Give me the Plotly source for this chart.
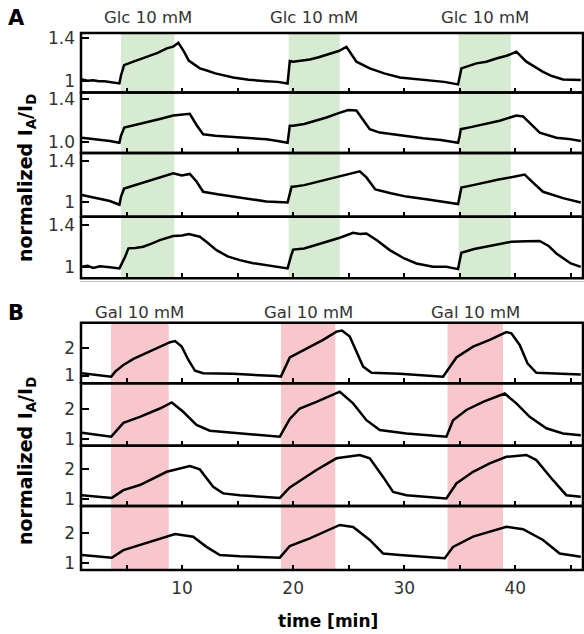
import plotly.graph_objects as go

W, H = 584, 634

# ---------------- data ----------------
# Panel A (glucose pulses)
glc_on = [4.5, 19.6, 34.9]
glc_off = [9.3, 24.2, 39.6]
glc_label = "Glc 10 mM"

a1_t = [0.98, 1.5, 2.0, 2.5, 3.0, 3.5, 4.36, 4.5, 4.78, 5.62, 6.3, 7.12, 7.8, 8.62, 9.2, 9.67, 10.2, 10.6, 11.6, 12.3, 13.0, 14.6, 16.0, 17.6, 18.6, 19.5,
        19.7, 20.0, 21.5, 22.3, 23.3, 24.1, 24.8, 25.7, 26.9, 28.2, 29.6, 31.0, 32.3, 33.6, 34.85, 35.0, 35.15, 36.5, 37.4, 38.3, 39.3, 40.1, 41.0, 42.5, 43.3, 44.3, 45.9]
a1_y = [1.013, 1.0, 1.006, 0.996, 0.995, 0.99, 0.975, 1.05, 1.148, 1.18, 1.205, 1.242, 1.262, 1.305, 1.322, 1.358, 1.27, 1.19, 1.117, 1.095, 1.07, 1.032, 1.01, 0.997, 0.99, 0.975,
        1.186, 1.18, 1.2, 1.222, 1.258, 1.28, 1.32, 1.18, 1.117, 1.07, 1.032, 1.018, 1.007, 0.99, 0.966, 1.06, 1.117, 1.164, 1.18, 1.21, 1.238, 1.274, 1.18, 1.085, 1.045, 1.013, 1.007]

a2_t = [0.98, 1.8, 2.6, 3.5, 4.36, 4.5, 4.8, 6.2, 7.1, 8.0, 9.2, 10.3, 10.7, 11.3, 11.9, 13.0, 14.6, 16.1, 17.6, 18.6, 19.5,
        19.7, 20.0, 21.0, 22.1, 23.0, 23.9, 24.95, 25.7, 26.9, 27.8, 29.8, 31.7, 33.3, 34.85, 35.0, 35.1, 36.0, 37.1, 38.6, 40.1, 40.7, 42.2, 43.7, 44.8, 45.9]
a2_y = [1.041, 1.03, 1.026, 1.01, 0.993, 1.06, 1.136, 1.168, 1.19, 1.216, 1.248, 1.264, 1.264, 1.16, 1.073, 1.06, 1.05, 1.04, 1.026, 1.01, 0.993,
        1.152, 1.152, 1.17, 1.2, 1.23, 1.264, 1.30, 1.295, 1.121, 1.089, 1.06, 1.035, 1.02, 0.993, 1.06, 1.121, 1.14, 1.168, 1.2, 1.248, 1.24, 1.089, 1.041, 1.03, 1.01]

a3_t = [0.98, 1.8, 2.6, 3.5, 4.36, 4.5, 4.78, 6.2, 7.1, 8.0, 9.2, 9.97, 10.7, 11.3, 11.9, 13.2, 14.6, 16.1, 17.6, 18.6, 19.5, 19.86,
        20.0, 21.0, 22.1, 23.2, 24.2, 25.1, 26.0, 26.6, 27.4, 28.8, 30.2, 32.3, 33.6, 34.85, 35.0, 35.15, 36.2, 37.4, 38.5, 39.65, 40.85, 41.6, 42.5, 44.3, 45.9]
a3_y = [1.069, 1.05, 1.038, 1.01, 0.974, 1.05, 1.132, 1.18, 1.205, 1.236, 1.28, 1.258, 1.274, 1.2, 1.10, 1.075, 1.053, 1.03, 1.006, 1.0, 0.996, 1.148,
        1.148, 1.165, 1.195, 1.225, 1.258, 1.28, 1.30, 1.24, 1.123, 1.085, 1.053, 1.022, 1.0, 0.981, 1.06, 1.142, 1.165, 1.195, 1.22, 1.242, 1.267, 1.19, 1.10, 1.038, 0.996]

a4_t = [0.98, 1.5, 2.0, 2.6, 3.5, 4.36, 4.87, 5.17, 5.8, 6.5, 7.2, 8.0, 9.2, 10.0, 10.6, 11.6, 12.3, 13.1, 14.1, 15.2, 16.4, 17.6, 18.6, 19.5,
        19.8, 20.0, 21.0, 22.1, 23.1, 24.2, 25.4, 26.0, 26.6, 27.6, 28.7, 30.0, 31.1, 32.6, 33.8, 34.85, 35.0, 35.15, 36.3, 37.4, 38.5, 39.65, 41.0, 42.2, 43.0, 43.7, 45.0, 45.9]
a4_y = [1.0, 1.01, 0.99, 1.006, 0.995, 0.985, 1.096, 1.177, 1.18, 1.192, 1.22, 1.256, 1.295, 1.3, 1.314, 1.288, 1.23, 1.16, 1.1, 1.064, 1.035, 1.016, 0.995, 0.985,
        1.10, 1.165, 1.175, 1.208, 1.24, 1.278, 1.326, 1.315, 1.32, 1.25, 1.16, 1.08, 1.032, 1.0, 1.0, 0.978, 1.06, 1.134, 1.17, 1.192, 1.215, 1.24, 1.245, 1.247, 1.2, 1.128, 1.032, 1.0]

# Panel B (galactose pulses)
gal_on = [3.6, 18.9, 33.9]
gal_off = [8.8, 23.8, 38.9]
gal_label = "Gal 10 mM"

b1_t = [0.98, 2.5, 3.62, 4.0, 4.72, 5.62, 7.12, 8.92, 9.37, 9.97, 10.57, 11.17, 11.9, 14.6, 18.5, 18.9,
        19.7, 21.2, 22.7, 23.9, 24.4, 25.1, 25.7, 26.3, 27.06, 29.6, 33.5, 34.1, 34.7, 36.2, 37.7, 39.2, 39.65,
        40.4, 41.1, 41.9, 45.9]
b1_y = [1.08, 1.02, 0.96, 1.15, 1.38, 1.6, 1.88, 2.2, 2.24, 2.04, 1.56, 1.17, 1.08, 1.06, 0.98, 0.96,
        1.65, 1.98, 2.28, 2.58, 2.62, 2.40, 1.86, 1.32, 1.10, 1.06, 0.96, 1.29, 1.65, 2.04, 2.28, 2.56, 2.52,
        2.10, 1.44, 1.10, 1.04]

b2_t = [0.98, 3.62, 4.72, 6.2, 8.0, 9.07, 10.1, 11.3, 12.5, 14.6, 18.8,
        19.7, 20.6, 22.1, 24.2, 25.4, 26.6, 27.8, 30.2, 33.8, 34.4, 35.6, 37.1, 39.05, 40.1, 41.3, 42.8, 44.3, 45.9]
b2_y = [1.22, 1.09, 1.55, 1.75, 2.03, 2.23, 1.92, 1.48, 1.29, 1.22, 1.09,
        1.68, 2.03, 2.25, 2.59, 2.2, 1.64, 1.31, 1.2, 1.09, 1.64, 1.98, 2.25, 2.53, 2.2, 1.75, 1.37, 1.2, 1.14]

b3_t = [0.98, 3.67, 4.72, 6.2, 8.62, 10.7, 11.6, 12.8, 13.7, 15.2, 18.8,
        19.7, 22.1, 23.9, 26.0, 26.9, 28.1, 29.0, 30.2, 33.8, 34.7, 36.2, 37.7, 39.2, 41.0, 41.9, 43.4, 44.6, 45.9]
b3_y = [1.14, 1.05, 1.31, 1.48, 1.92, 2.11, 2.0, 1.42, 1.2, 1.14, 1.05,
        1.4, 1.98, 2.37, 2.48, 2.37, 1.75, 1.25, 1.14, 1.03, 1.53, 1.92, 2.2, 2.42, 2.48, 2.31, 1.64, 1.14, 1.09]

b4_t = [0.98, 3.67, 4.72, 6.2, 8.62, 9.37, 11.0, 12.2, 13.4, 15.2, 18.8,
        19.7, 21.5, 24.2, 25.4, 26.9, 28.1, 29.6, 33.65, 34.4, 36.2, 37.7, 39.2, 40.7, 42.5, 44.0, 45.9]
b4_y = [1.26, 1.17, 1.42, 1.59, 1.87, 1.96, 1.87, 1.53, 1.26, 1.22, 1.17,
        1.56, 1.81, 2.26, 2.19, 1.76, 1.31, 1.26, 1.15, 1.53, 1.87, 2.04, 2.2, 2.12, 1.76, 1.31, 1.2]

x_ticks = [10, 20, 30, 40]
x_ticktext = ["10", "20", "30", "40"]

series = [(a1_t, a1_y), (a2_t, a2_y), (a3_t, a3_y), (a4_t, a4_y),
          (b1_t, b1_y), (b2_t, b2_y), (b3_t, b3_y), (b4_t, b4_y)]

y_ranges = [[0.89, 1.45], [0.898, 1.464], [0.857, 1.478], [0.89, 1.48],
            [0.72, 2.9], [0.79, 2.87], [0.78, 2.79], [0.76, 2.89]]
y_tickvals = [[1, 1.4]] * 4 + [[1, 2]] * 4
y_ticktext = [["1", "1.4"], ["1.0", "1.4"], ["1", "1.4"], ["1", "1.4"]] + [["1", "2"]] * 4

# ---------------- layout geometry (pixels) ----------------
row_px = [(33, 92.5), (92.5, 153), (153, 216.7), (216.7, 278.3),
          (322.7, 383.3), (383.3, 445.7), (445.7, 506), (506, 570)]
XL, XR = 81, 583
x_dom = [XL / W, XR / W]
x_range = [0.9, 46.1]

FONT = "DejaVu Sans, Liberation Sans, Arial, sans-serif"
GREEN = "#d6ebd1"
PINK = "#f8c7cc"
TXT = "#333333"

fig = go.Figure()
layout = dict(width=W, height=H, margin=dict(l=0, r=0, t=0, b=0, autoexpand=False),
              plot_bgcolor="white", paper_bgcolor="white", showlegend=False,
              font=dict(family=FONT, color=TXT))
shapes = []
annotations = []

for i, ((t, y), (top, bot)) in enumerate(zip(series, row_px)):
    n = i + 1
    xa = "x" if n == 1 else f"x{n}"
    ya = "y" if n == 1 else f"y{n}"
    fig.add_trace(go.Scatter(x=t, y=y, mode="lines", xaxis=xa, yaxis=ya,
                             line=dict(color="black", width=2.5), hoverinfo="skip"))
    layout["xaxis" if n == 1 else f"xaxis{n}"] = dict(
        domain=x_dom, range=x_range, anchor=ya, showline=False, automargin=False,
        ticks="inside", ticklen=5, tickwidth=2, tickcolor="black",
        tickvals=x_ticks, ticktext=x_ticktext,
        minor=dict(ticks="inside", tickvals=[5, 15, 25, 35, 45], ticklen=5, tickwidth=2, tickcolor="black"),
        showticklabels=(n == 8), tickfont=dict(size=17, color=TXT), ticklabelstandoff=6,
        showgrid=False, zeroline=False, fixedrange=True)
    layout["yaxis" if n == 1 else f"yaxis{n}"] = dict(
        domain=[1 - bot / H, 1 - top / H], range=y_ranges[i], anchor=xa,
        showline=False, automargin=False,
        ticks="inside", ticklen=8, tickwidth=2, tickcolor="black",
        tickvals=y_tickvals[i], ticktext=y_ticktext[i],
        tickfont=dict(size=17, color=TXT), ticklabelstandoff=5,
        showgrid=False, zeroline=False, fixedrange=True)
    ons, offs, col = (glc_on, glc_off, GREEN) if n <= 4 else (gal_on, gal_off, PINK)
    for a, b in zip(ons, offs):
        shapes.append(dict(type="rect", xref=xa, yref=f"{ya} domain", x0=a, x1=b, y0=0, y1=1,
                           fillcolor=col, line=dict(width=0), layer="below"))
    # subplot frame
    shapes.append(dict(type="rect", xref="paper", yref="paper", x0=XL / W, x1=XR / W,
                       y0=1 - bot / H, y1=1 - top / H, line=dict(color="black", width=2.5),
                       fillcolor="rgba(0,0,0,0)", layer="above"))

# faint grey line under panel A
shapes.append(dict(type="line", xref="paper", yref="paper", x0=80 / W, x1=1, y0=1 - 281.5 / H, y1=1 - 281.5 / H,
                   line=dict(color="#c8c8c8", width=1)))

for a, b in zip(glc_on, glc_off):
    annotations.append(dict(text=glc_label, xref="x", yref="paper", x=(a + b) / 2, y=1 - 17 / H,
                            showarrow=False, font=dict(size=16.5, color=TXT), xanchor="center", yanchor="middle"))
for a, b in zip(gal_on, gal_off):
    annotations.append(dict(text=gal_label, xref="x5", yref="paper", x=(a + b) / 2, y=1 - 312 / H,
                            showarrow=False, font=dict(size=16.5, color=TXT), xanchor="center", yanchor="middle"))

annotations.append(dict(text="<b>A</b>", xref="paper", yref="paper", x=16 / W, y=1 - 18 / H, showarrow=False,
                        font=dict(size=21, color="black"), xanchor="center", yanchor="middle"))
annotations.append(dict(text="<b>B</b>", xref="paper", yref="paper", x=16 / W, y=1 - 313 / H, showarrow=False,
                        font=dict(size=21, color="black"), xanchor="center", yanchor="middle"))
ytitle = "<b>normalized I<sub>A</sub>/I<sub>D</sub></b>"
for yc in [178, 461]:
    annotations.append(dict(text=ytitle, xref="paper", yref="paper", x=26 / W, y=1 - yc / H, textangle=-90,
                            showarrow=False, font=dict(size=19, color="black"), xanchor="center", yanchor="middle"))
annotations.append(dict(text="<b>time [min]</b>", xref="paper", yref="paper", x=328 / W, y=1 - 621 / H,
                        showarrow=False, font=dict(size=17, color="black"), xanchor="center", yanchor="middle"))

layout["shapes"] = shapes
layout["annotations"] = annotations
fig.update_layout(**layout)
fig.write_html("out.html", config={"displayModeBar": False},
               post_script="document.body.style.margin='0';document.body.style.overflow='hidden';")
